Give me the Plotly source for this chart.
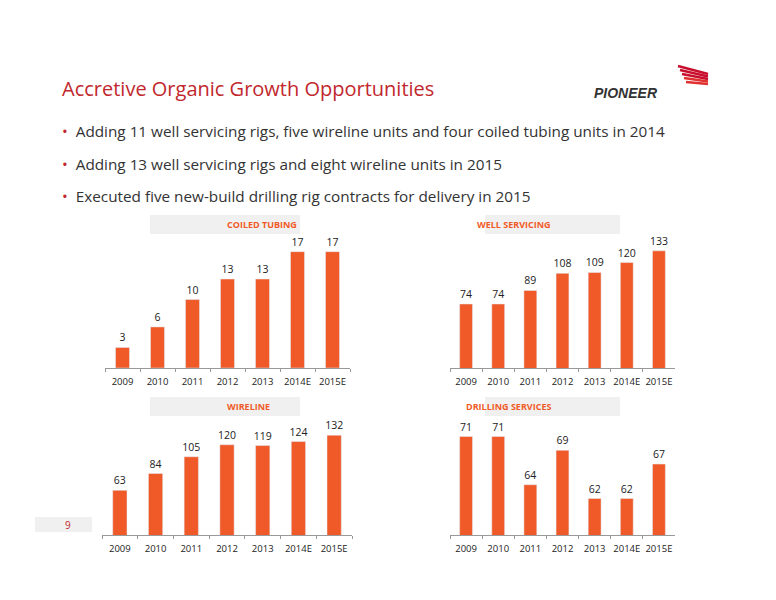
import plotly.graph_objects as go

W, H = 760, 584
OFF = 8  # page body margin
years = ["2009", "2010", "2011", "2012", "2013", "2014E", "2015E"]
coiled = [3, 6, 10, 13, 13, 17, 17]
well = [74, 74, 89, 108, 109, 120, 133]
wireline = [63, 84, 105, 120, 119, 124, 132]
drilling = [71, 71, 64, 69, 62, 62, 67]
titles = ["COILED TUBING", "WELL SERVICING", "WIRELINE", "DRILLING SERVICES"]
bullets = [
    "Adding 11 well servicing rigs, five wireline units and four coiled tubing units in 2014",
    "Adding 13 well servicing rigs and eight wireline units in 2015",
    "Executed five new-build drilling rig contracts for delivery in 2015",
]

ORANGE = "#F05A28"
RED = "#C1272D"

def px(x): return (x - OFF) / W
def py(y): return 1 - (y - OFF) / H

# (series, x px range, y px range (bottom, top), y value range, label box)
panels = [
    (coiled, (105, 350), (368, 240), (0, 18.7), (150, 300, 215, 234)),
    (well, (450, 675), (368, 240), (3, 145), (485, 620, 215, 234)),
    (wireline, (102, 352), (535, 420), (7, 151), (150, 300, 397, 416)),
    (drilling, (450, 675), (535, 420), (56.7, 73.4), (485, 620, 397, 416)),
]

fig = go.Figure()
shapes, annotations = [], []
for i, (vals, xr, yr, rng, box) in enumerate(panels):
    n = "" if i == 0 else str(i + 1)
    fig.add_trace(go.Bar(
        x=years, y=vals, xaxis="x" + n, yaxis="y" + n,
        marker=dict(color=ORANGE), width=0.4,
        text=[str(v) for v in vals], textposition="outside", cliponaxis=False,
        constraintext="none",
        textfont=dict(size=10.5, color="#222", family="Open Sans"),
        showlegend=False,
    ))
    fig.update_layout(**{
        "xaxis" + n: dict(domain=[px(xr[0]), px(xr[1])], anchor="y" + n,
                         showline=True, linecolor="#999", ticks="outside",
                         tickcolor="#999", ticklen=3, tickson="boundaries",
                         tickangle=0, ticklabelstandoff=5,
                         tickfont=dict(size=9.5, color="#222", family="Open Sans"),
                         fixedrange=True),
        "yaxis" + n: dict(domain=[py(yr[0]), py(yr[1])], anchor="x" + n,
                         range=list(rng), visible=False),
    })
    shapes.append(dict(type="rect", xref="paper", yref="paper",
                       x0=px(box[0]), x1=px(box[1]), y0=py(box[3]), y1=py(box[2]),
                       fillcolor="#F0F0F0", line_width=0, layer="below"))
    annotations.append(dict(text="<b>" + titles[i] + "</b>", xref="paper", yref="paper",
                            x=px((box[0] + box[1]) / 2), y=py((box[2] + box[3]) / 2),
                            yanchor="middle", showarrow=False,
                            font=dict(size=9, color=ORANGE, family="Open Sans")))

annotations.append(dict(text="Accretive Organic Growth Opportunities", xref="paper", yref="paper",
                        x=px(60), y=py(88), xanchor="left", yanchor="middle", showarrow=False,
                        font=dict(size=20, color=RED, family="Open Sans")))
for j, b in enumerate(bullets):
    yy = [131, 164, 196][j]
    annotations.append(dict(text="<span style='color:%s'>•</span>  %s" % (RED, b),
                            xref="paper", yref="paper", x=px(60), y=py(yy),
                            xanchor="left", yanchor="middle", showarrow=False,
                            font=dict(size=15.3, color="#333", family="Open Sans")))

# page number box
shapes.append(dict(type="rect", xref="paper", yref="paper", x0=px(35), x1=px(92),
                   y0=py(532), y1=py(517), fillcolor="#F0F0F0", line_width=0))
annotations.append(dict(text="9", xref="paper", yref="paper", x=px(63), y=py(524.5),
                        yanchor="middle", showarrow=False, font=dict(size=10, color=RED)))

# logo
annotations.append(dict(text="<b><i>PIONEER</i></b>", xref="paper", yref="paper",
                        x=px(660), y=py(93), yanchor="middle", showarrow=False,
                        font=dict(size=14, color="#333", family="Liberation Sans")))
for k in range(5):
    shapes.append(dict(type="path", xref="paper", yref="paper",
                       path="M %f %f L %f %f" % (px(678 + k * 2), py(66 + k * 4),
                                                 px(708), py(74 + k * 2.5)),
                       line=dict(color="#C8102E" if k < 3 else "#E03030", width=2.5)))

fig.update_layout(width=W, height=H, margin=dict(l=0, r=0, t=0, b=0),
                  paper_bgcolor="white", plot_bgcolor="white",
                  shapes=shapes, annotations=annotations, bargap=0.6)
fig.write_html("out.html")
